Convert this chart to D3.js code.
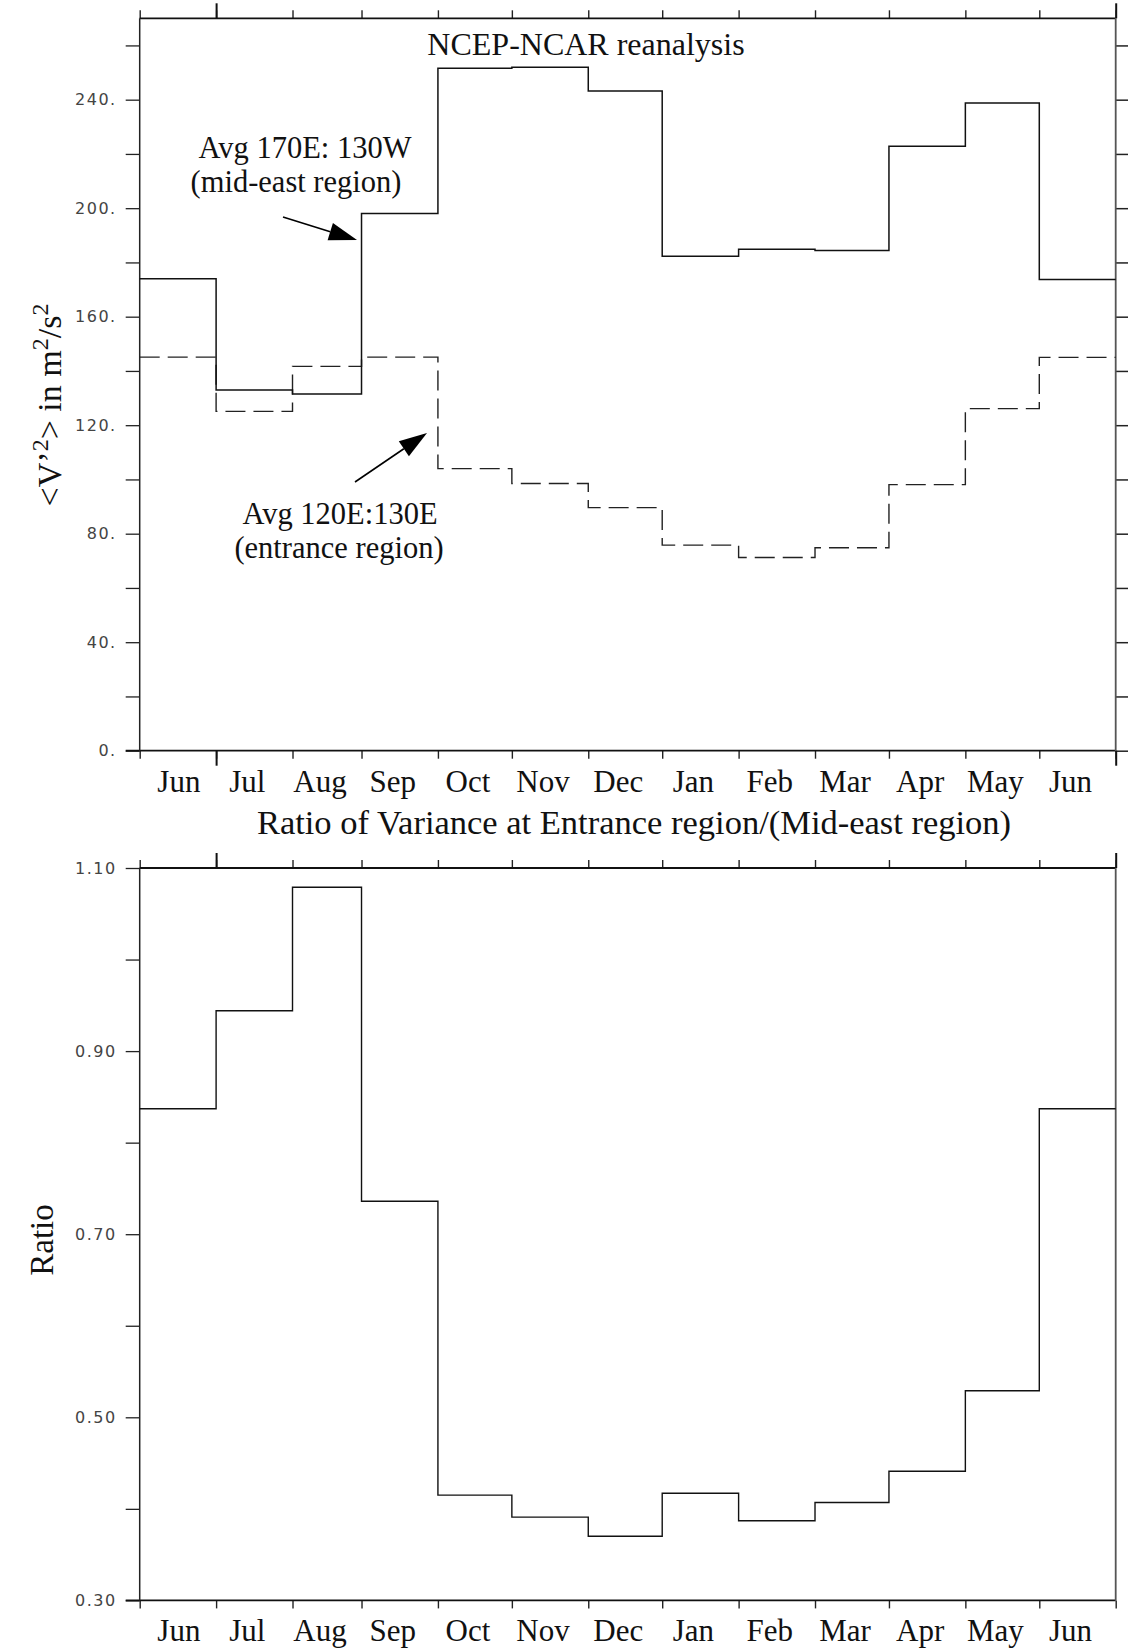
<!DOCTYPE html>
<html>
<head>
<meta charset="utf-8">
<script src="https://cdn.jsdelivr.net/npm/d3@7"></script>
<style>
  html, body { margin: 0; padding: 0; background: #fff; }
  svg { display: block; }
  .serif { font-family: "Liberation Serif", "Times New Roman", serif; fill: #111; }
  .ticklab text { font-family: "DejaVu Sans", sans-serif; font-size: 16px; letter-spacing: 1.5px; fill: #444; }
</style>
</head>
<body>
<svg id="chart" width="1128" height="1650"></svg>
<script>
// One label per monthly bin (13 bins, the first month repeated at the end)
const monthLabels = ["Jun", "Jul", "Aug", "Sep", "Oct", "Nov", "Dec", "Jan", "Feb", "Mar", "Apr", "May", "Jun"];

// <V'^2> (m^2/s^2), average over 170E:130W (mid-east region)
const midEastVariance = [174, 133, 131.5, 198, 251.6, 252, 243.2, 182.3, 184.9, 184.4, 222.8, 238.8, 173.7];
// <V'^2> (m^2/s^2), average over 120E:130E (entrance region)
const entranceVariance = [145.1, 125.1, 141.7, 145.1, 104.0, 98.5, 89.6, 75.8, 71.2, 74.8, 98.1, 126.1, 145.0];
// entrance / mid-east
const varianceRatio = [0.837, 0.944, 1.079, 0.736, 0.415, 0.391, 0.370, 0.417, 0.387, 0.407, 0.441, 0.529, 0.837];

const varianceTicks = [0, 40, 80, 120, 160, 200, 240];
const varianceMinorTicks = [20, 60, 100, 140, 180, 220, 260];
const ratioTicks = [0.30, 0.50, 0.70, 0.90, 1.10];
const ratioMinorTicks = [0.40, 0.60, 0.80, 1.00];

// ---- time axis: 13 calendar-month cells on a day-based axis ----
const axisStart = new Date(Date.UTC(2000, 11, 1));
const binEdges = d3.utcMonth.range(axisStart, d3.utcMonth.offset(axisStart, 14)); // 14 edges
const yearEdges = d3.utcYear.range(binEdges[0], d3.utcMonth.offset(binEdges[13], 1));

const svg = d3.select("#chart");
const left = 139.7, right = 1115.7;
const x = d3.scaleUtc().domain([binEdges[0], binEdges[13]]).range([left, right]);

const labelSize = 31;   // month names
const textSize = 33;    // titles

function stepPoints(values) {
  const pts = values.map((v, i) => [binEdges[i], v]);
  pts.push([binEdges[13], values[values.length - 1]]);
  return pts;
}

function drawPanel(opts) {
  const { top, bottom, y, majors, minors, fmt, rightTicks, topLong, bottomLong } = opts;
  const g = svg.append("g");

  // left axis: labelled majors and unlabelled minors
  g.append("g").attr("class", "ticklab")
    .attr("transform", `translate(${left},0)`)
    .call(d3.axisLeft(y).tickValues(majors).tickFormat(fmt).tickSize(14).tickPadding(9).tickSizeOuter(0))
    .call(s => s.select(".domain").remove())
    .call(s => s.selectAll("line").attr("stroke", "#222").attr("stroke-width", 1.3));
  g.append("g")
    .attr("transform", `translate(${left},0)`)
    .call(d3.axisLeft(y).tickValues(minors).tickFormat("").tickSize(14).tickSizeOuter(0))
    .call(s => s.select(".domain").remove())
    .call(s => s.selectAll("line").attr("stroke", "#222").attr("stroke-width", 1.3));

  if (rightTicks) {
    g.append("g")
      .attr("transform", `translate(${right},0)`)
      .call(d3.axisRight(y).tickValues(majors.concat(minors)).tickFormat("").tickSize(14).tickSizeOuter(0))
      .call(s => s.select(".domain").remove())
      .call(s => s.selectAll("line").attr("stroke", "#222").attr("stroke-width", 1.5));
  }

  // top and bottom month-boundary ticks
  const xTicks = (axisFn, ypos, len) => g.append("g")
    .attr("transform", `translate(0,${ypos})`)
    .call(axisFn(x).tickValues(binEdges).tickFormat("").tickSize(len).tickSizeOuter(0))
    .call(s => s.select(".domain").remove())
    .call(s => s.selectAll("line").attr("stroke", "#222").attr("stroke-width", 1.4));
  xTicks(d3.axisTop, top, 8);
  if (topLong) {
    g.append("g").attr("transform", `translate(0,${top})`)
      .call(d3.axisTop(x).tickValues(yearEdges).tickFormat("").tickSize(15).tickSizeOuter(0))
      .call(s => s.select(".domain").remove())
      .call(s => s.selectAll("line").attr("stroke", "#111").attr("stroke-width", 2));
  }
  xTicks(d3.axisBottom, bottom, 8);
  if (bottomLong) {
    g.append("g").attr("transform", `translate(0,${bottom})`)
      .call(d3.axisBottom(x).tickValues(yearEdges).tickFormat("").tickSize(15).tickSizeOuter(0))
      .call(s => s.select(".domain").remove())
      .call(s => s.selectAll("line").attr("stroke", "#111").attr("stroke-width", 2));
  }

  // frame
  g.append("line").attr("x1", left - 14).attr("x2", right).attr("y1", bottom).attr("y2", bottom)
    .attr("stroke", "#111").attr("stroke-width", 1.8);
  g.append("line").attr("x1", left).attr("x2", right).attr("y1", top).attr("y2", top)
    .attr("stroke", "#111").attr("stroke-width", 1.8);
  g.append("line").attr("x1", left).attr("x2", left).attr("y1", top).attr("y2", bottom)
    .attr("stroke", "#222").attr("stroke-width", 1.5);
  g.append("line").attr("x1", right).attr("x2", right).attr("y1", top).attr("y2", bottom)
    .attr("stroke", "#555").attr("stroke-width", 1.8);

  // month labels
  g.append("g").selectAll("text").data(monthLabels).join("text")
    .attr("class", "serif")
    .attr("x", (d, i) => (x(binEdges[i]) + x(binEdges[i + 1])) / 2 - 7 + (i === 0 ? 8 : 0))
    .attr("y", bottom + 41)
    .attr("text-anchor", "middle")
    .attr("font-size", labelSize)
    .text(d => d);
  return g;
}

const line = (y) => d3.line().x(d => x(d[0])).y(d => y(d[1])).curve(d3.curveStepAfter);

// ---------------- upper panel ----------------
const topPanel = { top: 18.3, bottom: 750.7 };
const yVar = d3.scaleLinear().domain([0, 270]).range([topPanel.bottom, topPanel.top]);

const g1 = drawPanel({
  top: topPanel.top, bottom: topPanel.bottom, y: yVar,
  majors: varianceTicks, minors: varianceMinorTicks,
  fmt: d => d + ".", rightTicks: true, topLong: true, bottomLong: true
});

g1.append("path").datum(stepPoints(entranceVariance))
  .attr("d", line(yVar)).attr("fill", "none")
  .attr("stroke", "#222").attr("stroke-width", 1.4).attr("stroke-dasharray", "20,8");
g1.append("path").datum(stepPoints(midEastVariance))
  .attr("d", line(yVar)).attr("fill", "none")
  .attr("stroke", "#111").attr("stroke-width", 1.5);

svg.append("text").attr("class", "serif")
  .attr("x", 586).attr("y", 55).attr("text-anchor", "middle").attr("font-size", 32)
  .text("NCEP-NCAR reanalysis");

// two-line annotations
function note(lines, xs, y0) {
  const g = svg.append("g").attr("class", "serif");
  lines.forEach((s, i) => g.append("text")
    .attr("font-size", 30.5).attr("text-anchor", "middle")
    .attr("x", xs[i]).attr("y", y0 + i * 34).text(s));
}
note(["Avg 170E: 130W", "(mid-east region)"], [305, 296], 158);
note(["Avg 120E:130E", "(entrance region)"], [340, 339], 524);

function arrow(x1, y1, x2, y2) {
  const ang = Math.atan2(y2 - y1, x2 - x1);
  const hl = 28, hw = 9;
  const bx = x2 - hl * Math.cos(ang), by = y2 - hl * Math.sin(ang);
  svg.append("line").attr("x1", x1).attr("y1", y1).attr("x2", bx).attr("y2", by)
    .attr("stroke", "#000").attr("stroke-width", 1.6);
  const px = -Math.sin(ang) * hw, py = Math.cos(ang) * hw;
  svg.append("polygon")
    .attr("points", `${x2},${y2} ${bx + px},${by + py} ${bx - px},${by - py}`)
    .attr("fill", "#000");
}
arrow(283, 217, 357, 240);
arrow(355, 482, 427, 433);

// y-axis title with superscripts
const yt = svg.append("text").attr("class", "serif")
  .attr("transform", "translate(61,405) rotate(-90)")
  .attr("text-anchor", "middle").attr("font-size", 34);
yt.append("tspan").text("<V’");
yt.append("tspan").attr("baseline-shift", "super").attr("font-size", 24).text("2");
yt.append("tspan").text("> in m");
yt.append("tspan").attr("baseline-shift", "super").attr("font-size", 24).text("2");
yt.append("tspan").text("/s");
yt.append("tspan").attr("baseline-shift", "super").attr("font-size", 24).text("2");

svg.append("text").attr("class", "serif")
  .attr("x", 634).attr("y", 834).attr("text-anchor", "middle").attr("font-size", 34.5)
  .text("Ratio of Variance at Entrance region/(Mid-east region)");

// ---------------- lower panel ----------------
const botPanel = { top: 868, bottom: 1600.4 };
const yRatio = d3.scaleLinear().domain([0.30, 1.10]).range([botPanel.bottom, botPanel.top]);

const g2 = drawPanel({
  top: botPanel.top, bottom: botPanel.bottom, y: yRatio,
  majors: ratioTicks, minors: ratioMinorTicks,
  fmt: d3.format(".2f"), rightTicks: false, topLong: true, bottomLong: false
});

g2.append("path").datum(stepPoints(varianceRatio))
  .attr("d", line(yRatio)).attr("fill", "none")
  .attr("stroke", "#111").attr("stroke-width", 1.4);

svg.append("text").attr("class", "serif")
  .attr("transform", "translate(53,1240) rotate(-90)")
  .attr("text-anchor", "middle").attr("font-size", textSize)
  .text("Ratio");
</script>
</body>
</html>
